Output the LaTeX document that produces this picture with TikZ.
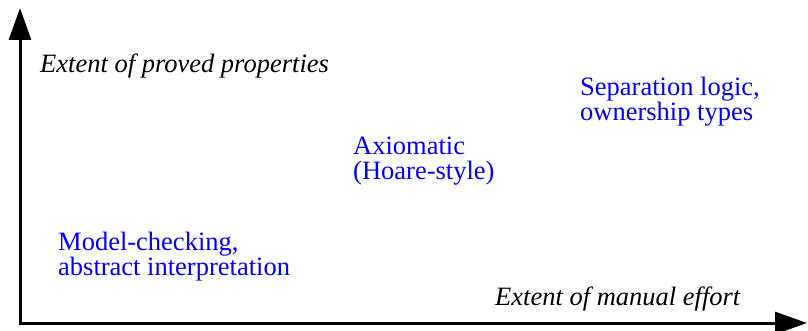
\documentclass[tikz,border=0pt]{standalone}
\usepackage{fontspec}
\setmainfont{Liberation Serif}
\usetikzlibrary{arrows.meta}

\begin{document}
\begin{tikzpicture}[
    x=1pt, y=-1pt,
    % axis labels in italics
    axislabel/.style={font=\fontsize{26.5}{25}\selectfont\itshape, anchor=base west, inner sep=0pt},
    % blue method labels (anchored at the baseline of the last line)
    method/.style={font=\fontsize{26.5}{25}\selectfont, text=blue, align=left, anchor=base west, inner sep=0pt},
    axis/.style={line width=3pt, {Triangle[length=32pt, width=22pt]}-{Triangle[length=32pt, width=22pt]}}
]
    \useasboundingbox (0,0) rectangle (808,331);

    % corner and ends of the axes
    \coordinate (origin) at (20,323);
    \coordinate (ytop) at (20,8);
    \coordinate (xend) at (807,323);

    % axes
    \draw[axis] (ytop) -- (origin) -- (xend);

    % axis labels
    \node[axislabel] (ylabel) at (40,73) {Extent of proved properties};
    \node[axislabel] (xlabel) at (495,305) {Extent of manual effort};

    % methods
    \node[method] (modelcheck) at (58,275) {Model-checking,\\abstract interpretation};
    \node[method] (axiomatic) at (353,180) {Axiomatic\\(Hoare-style)};
    \node[method] (separation) at (580,121) {Separation logic,\\ownership types};
\end{tikzpicture}
\end{document}
